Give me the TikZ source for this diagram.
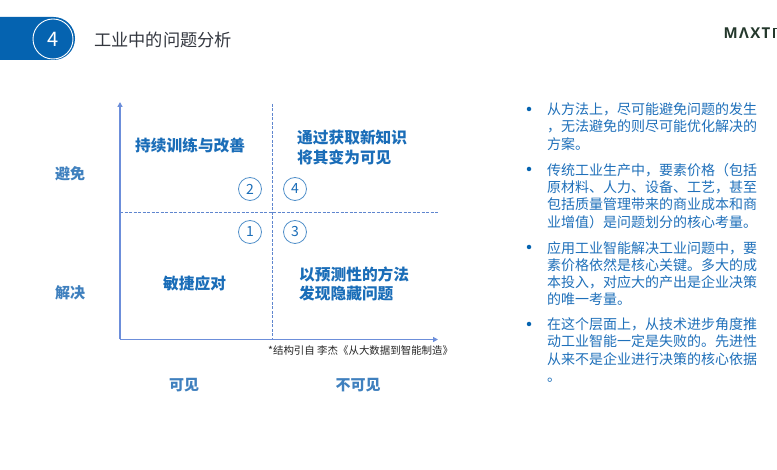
\documentclass[tikz,border=0pt]{standalone}
\usepackage{fontspec}
\setmainfont{Noto Sans CJK SC}
\newfontfamily\logofont[LetterSpace=9]{Open Sans}
\usetikzlibrary{arrows.meta}
\definecolor{hdblue}{HTML}{0563B0}
\definecolor{axisblue}{HTML}{6C8EDA}
\definecolor{dashblue}{HTML}{5F86CF}
\definecolor{txtblue}{HTML}{1A6DB8}
\definecolor{bodyblue}{HTML}{1F70BA}
\definecolor{labblue}{HTML}{3F80BE}
\definecolor{titlecol}{HTML}{33373F}
\definecolor{logocol}{HTML}{24382C}
\tikzset{
  x=1pt,y=-1pt,
  axisline/.style={draw=axisblue,line width=1.6pt,-{Triangle[length=5pt,width=5pt]}},
  dashline/.style={draw=dashblue,line width=0.8pt,dash pattern=on 3pt off 1.5pt},
  quad/.style={font=\bfseries\fontsize{15.7}{19}\selectfont,text=txtblue,align=left,inner sep=0pt,anchor=west},
  side/.style={font=\bfseries\fontsize{15}{18}\selectfont,text=labblue,inner sep=0pt},
  num/.style={circle,draw=txtblue!75,line width=0.8pt,minimum size=23pt,inner sep=0pt,text=txtblue,font=\fontsize{14}{16}\selectfont},
  body/.style={font=\fontsize{14}{17.3}\selectfont,text=bodyblue,align=left,inner sep=0pt,anchor=north west},
  dot/.style={circle,fill=hdblue,inner sep=0pt,minimum size=4.5pt},
}
\begin{document}
\begin{tikzpicture}
\useasboundingbox (0,0) rectangle (777,470);
\fill[white] (0,0) rectangle (777,470);
% header
\fill[hdblue,rounded corners=21.4pt] (-30,17) -- (75,17) -- (75,60) -- (-30,60) -- cycle;
\fill[white] (-31,10) rectangle (0,70);
\node[circle,draw=white,line width=0.9pt,minimum size=40pt,inner sep=0pt,text=white,font=\fontsize{20}{24}\selectfont] (badge) at (53,39) {4};
\node[anchor=west,inner sep=0pt,text=titlecol,font=\fontsize{17.2}{20}\selectfont] (title) at (94,39.5) {工业中的问题分析};
% logo
\begin{scope}
\clip (700,15) rectangle (777,50);
\node[anchor=west,inner sep=0pt,text=logocol,font=\logofont\bfseries\fontsize{15}{17}\selectfont] (logo) at (723.5,33) {MΛXT};
\draw[logocol,line width=1.6pt] (774,38) -- (774,28.6) -- (778,28.6);
\end{scope}
% axes
\coordinate (origin) at (120,339.5);
\coordinate (ytop) at (120,102);
\coordinate (xend) at (438,339.5);
\coordinate (hl) at (120,212);
\coordinate (hr) at (439,212);
\coordinate (vt) at (272,104);
\coordinate (vb) at (272,339);
\draw[dashline] (hl) -- (hr);
\draw[dashline] (vt) -- (vb);
\draw[axisline] (origin) -- (ytop);
\draw[axisline] (origin) -- (xend);
% quadrants
\node[quad] (q2) at (135,145) {持续训练与改善};
\node[quad] (q4a) at (297,138) {通过获取新知识};
\node[quad] (q4b) at (297,157) {将其变为可见};
\node[quad] (q1) at (163,283.5) {敏捷应对};
\node[quad] (q3a) at (299,274.5) {以预测性的方法};
\node[quad] (q3b) at (299,293.5) {发现隐藏问题};
\node[num] (n2) at (250,189) {2};
\node[num] (n4) at (295,189) {4};
\node[num] (n1) at (250,232) {1};
\node[num] (n3) at (295,232) {3};
% labels
\node[side] (avoid) at (70,174) {避免};
\node[side] (solve) at (70,293) {解决};
\node[side] (vis) at (184,385) {可见};
\node[side] (invis) at (358,385) {不可见};
\node[anchor=west,inner sep=0pt,text=black!85,font=\fontsize{10.45}{12}\selectfont] (note) at (268,351) {*结构引自 李杰《从大数据到智能制造》};
% bullets
\node[dot] (b1) at (529,109) {};
\node[dot] (b2) at (529,169) {};
\node[dot] (b3) at (529,247) {};
\node[dot] (b4) at (529,324) {};
\node[body] (t1) at (547,102.5) {从方法上，尽可能避免问题的发生\\，无法避免的则尽可能优化解决的\\方案。};
\node[body] (t2) at (547,163) {传统工业生产中，要素价格（包括\\原材料、人力、设备、工艺，甚至\\包括质量管理带来的商业成本和商\\业增值）是问题划分的核心考量。};
\node[body] (t3) at (547,241) {应用工业智能解决工业问题中，要\\素价格依然是核心关键。多大的成\\本投入，对应大的产出是企业决策\\的唯一考量。};
\node[body] (t4) at (547,317.5) {在这个层面上，从技术进步角度推\\动工业智能一定是失败的。先进性\\从来不是企业进行决策的核心依据\\。};
\end{tikzpicture}
\end{document}
